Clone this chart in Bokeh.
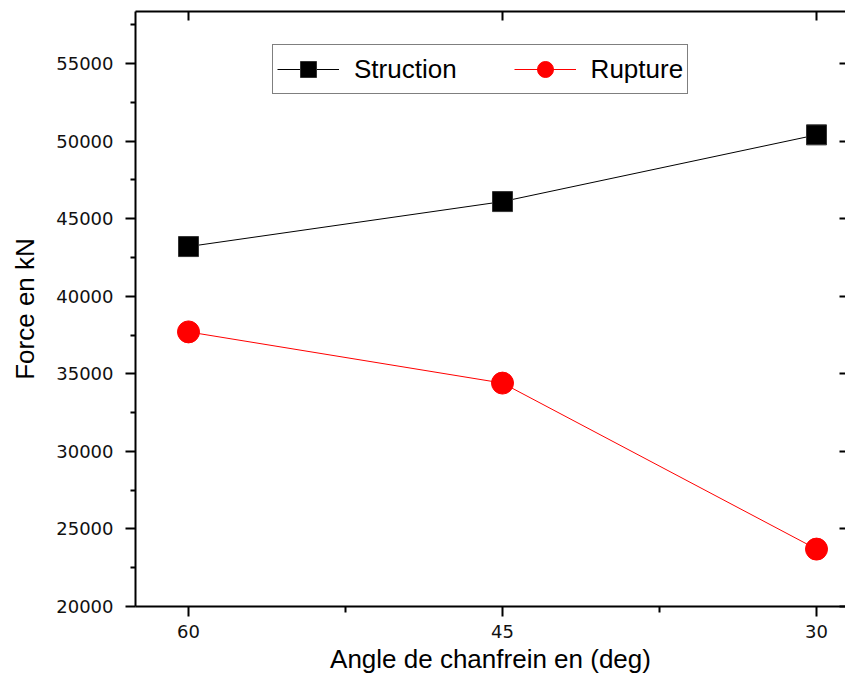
from bokeh.plotting import figure
from bokeh.models import Range1d, FixedTicker, LinearAxis, Legend, LegendItem
from bokeh.embed import file_html
from bokeh.resources import INLINE

# ---- data ----
angles = [60, 45, 30]
struction = [43200, 46100, 50400]
rupture = [37700, 34400, 23700]

x_ticks = [60, 45, 30]
x_minor = [52.5, 37.5]
y_ticks = [20000, 25000, 30000, 35000, 40000, 45000, 50000, 55000]
y_minor = [22500, 27500, 32500, 37500, 42500, 47500, 52500, 57500]

p = figure(width=845, height=678,
           x_range=Range1d(62.532, 28.615), y_range=Range1d(20000, 58352),
           output_backend="svg", toolbar_location=None,
           x_axis_type=None, y_axis_type=None,
           min_border_left=135, min_border_right=0,
           min_border_top=11, min_border_bottom=72)
p.outline_line_color = None
p.background_fill_color = "white"
p.border_fill_color = "white"

tick_font = "DejaVu Sans"
lab_font = "Liberation Sans"

def style_main(ax):
    ax.axis_line_width = 2
    ax.axis_line_color = "black"
    ax.major_tick_line_width = 2
    ax.minor_tick_line_width = 2
    ax.major_tick_line_color = "black"
    ax.minor_tick_line_color = "black"
    ax.major_tick_in = 0
    ax.minor_tick_in = 0
    ax.major_label_text_font = tick_font
    ax.major_label_text_font_size = "18px"
    ax.major_label_text_color = "#111111"
    ax.axis_label_text_font = lab_font
    ax.axis_label_text_font_size = "26px"
    ax.axis_label_text_font_style = "normal"
    ax.axis_label_text_color = "black"

def style_mirror(ax):
    ax.axis_line_width = 2
    ax.axis_line_color = "black"
    ax.major_tick_line_width = 2
    ax.major_tick_line_color = "black"
    ax.major_tick_out = 0
    ax.major_tick_in = 9
    ax.minor_tick_line_color = None
    ax.major_label_text_color = None
    ax.major_label_text_font_size = "1px"
    ax.major_label_standoff = 0
    ax.axis_label_standoff = 0

left = LinearAxis(ticker=FixedTicker(ticks=y_ticks, minor_ticks=y_minor),
                  axis_label="Force en kN")
style_main(left)
left.major_tick_out = 10
left.minor_tick_out = 5
left.major_label_standoff = 12
left.axis_label_standoff = 13
p.add_layout(left, "left")

bottom = LinearAxis(ticker=FixedTicker(ticks=x_ticks, minor_ticks=x_minor),
                    axis_label="Angle de chanfrein en (deg)")
style_main(bottom)
bottom.major_tick_out = 10
bottom.minor_tick_out = 6
bottom.major_label_standoff = 8
bottom.axis_label_standoff = 3
p.add_layout(bottom, "below")

top = LinearAxis(ticker=FixedTicker(ticks=x_ticks, minor_ticks=[]))
style_mirror(top)
p.add_layout(top, "above")

right = LinearAxis(ticker=FixedTicker(ticks=y_ticks, minor_ticks=[]))
style_mirror(right)
right.axis_line_color = None
right.major_tick_in = 6
p.add_layout(right, "right")

l1 = p.line(angles, struction, line_color="black", line_width=1)
s1 = p.scatter(angles, struction, marker="square", size=20,
               fill_color="black", line_color="#333333", line_width=1)
l2 = p.line(angles, rupture, line_color="red", line_width=1)
s2 = p.scatter(angles, rupture, marker="circle", size=22,
               fill_color="red", line_color="red", line_width=1)

legend = Legend(items=[LegendItem(label="Struction", renderers=[l1, s1]),
                       LegendItem(label="Rupture", renderers=[l2, s2])],
                orientation="horizontal", location=(137, 512),
                border_line_color="black", border_line_width=1.5,
                padding=4, spacing=57, margin=0,
                glyph_width=62, glyph_height=40, label_standoff=15,
                label_text_font=lab_font, label_text_font_size="26px",
                label_text_color="black",
                background_fill_color="white", background_fill_alpha=1)
p.add_layout(legend)

open("out.html", "w").write(file_html(p, INLINE))
